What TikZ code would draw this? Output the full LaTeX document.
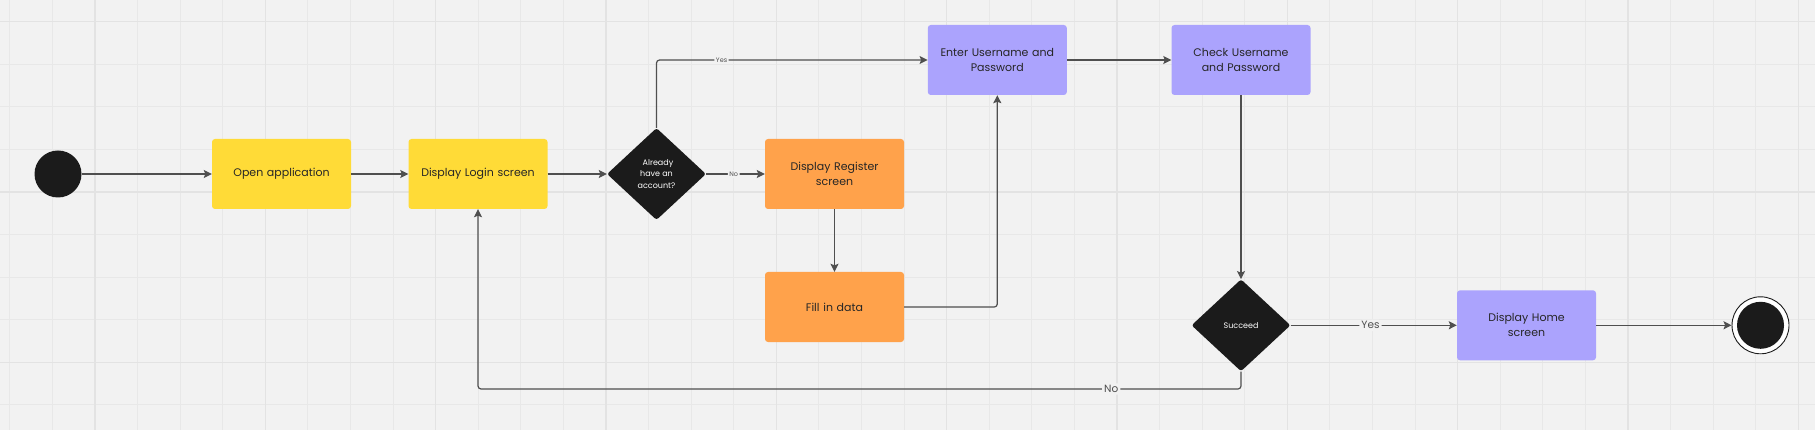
\documentclass[tikz,border=0pt]{standalone}
\usepackage{fontspec}
\setmainfont{Poppins}
\usetikzlibrary{shapes.geometric,arrows.meta}
\definecolor{bg}{HTML}{F2F2F2}
\definecolor{gridminor}{HTML}{E8E8E8}
\definecolor{gridmajor}{HTML}{E3E3E3}
\definecolor{yel}{HTML}{FFDB37}
\definecolor{ora}{HTML}{FFA24B}
\definecolor{pur}{HTML}{ABA3FD}
\definecolor{blk}{HTML}{1B1B1B}
\definecolor{lin}{HTML}{4F4F4F}
\definecolor{txt}{HTML}{262626}
\tikzset{
  box/.style={rectangle, rounded corners=3pt, minimum width=139pt, minimum height=70pt, inner sep=2pt, align=center, text=txt, font=\fontsize{11}{15}\selectfont, text width=130pt},
  ybox/.style={box, fill=yel},
  obox/.style={box, fill=ora},
  pbox/.style={box, fill=pur},
  decision/.style={diamond, fill=blk, rounded corners=2.5pt, minimum width=99pt, minimum height=92pt, inner sep=0pt, text=white, align=center, font=\fontsize{8}{11.2}\selectfont},
  conn/.style={draw=lin, line width=1.2pt, rounded corners=3pt, -{Stealth[length=8pt,width=8pt,inset=1.5pt]}},
  smalllbl/.style={fill=bg, inner sep=1.5pt, text=lin, font=\fontsize{6.5}{8}\selectfont},
  biglbl/.style={fill=bg, inner sep=2pt, text=lin, font=\fontsize{10.5}{12}\selectfont},
}
\begin{document}
\begin{tikzpicture}[x=1pt,y=-1pt]
\fill[bg] (0,0) rectangle (1815,430);
\useasboundingbox (0,0) rectangle (1815,430);
% grid
\foreach \i in {0,...,42} {
  \draw[gridminor, line width=1pt] ({9.9+42.58*\i},0) -- ({9.9+42.58*\i},430);
}
\foreach \i in {0,...,10} {
  \draw[gridminor, line width=1pt] (0,{21.7+42.58*\i}) -- (1815,{21.7+42.58*\i});
}
\foreach \i in {0,...,10} {
  \draw[gridmajor, line width=1.3pt] ({95.06+170.32*\i},0) -- ({95.06+170.32*\i},430);
}
\foreach \i in {0,...,2} {
  \draw[gridmajor, line width=1.3pt] (0,{21.7+170.32*\i}) -- (1815,{21.7+170.32*\i});
}
% nodes
\node[circle, fill=blk, minimum size=47pt, inner sep=0pt] (start) at (58,174) {};
\node[ybox] (open) at (281.5,174) {Open application};
\node[ybox] (login) at (478,174) {Display Login screen};
\node[decision] (d1) at (656.5,174) {\hspace*{3pt}Already\\have an\\account?};
\node[obox] (reg) at (834.5,174) {Display Register\\screen};
\node[obox] (fill) at (834.5,307) {Fill in data};
\node[pbox] (enter) at (997.3,60) {Enter Username and\\Password};
\node[pbox] (check) at (1241,60) {Check Username\\and Password};
\node[decision] (d2) at (1241,325.3) {Succeed};
\node[pbox] (home) at (1526.5,325.3) {Display Home\\screen};
\node[circle, draw=blk, line width=0.9pt, fill=white, minimum size=57pt, inner sep=0pt] (endo) at (1760.5,325.3) {};
\node[circle, fill=blk, minimum size=47pt, inner sep=0pt] (endi) at (endo.center) {};
\coordinate (nocorner) at (1241,389);
% connectors
\draw[conn] (start) -- (open);
\draw[conn] (open) -- (login);
\draw[conn] (login) -- (d1.west);
\draw[conn] (d1.north) |- node[smalllbl, pos=0.62] {Yes} (enter.west);
\draw[conn] (d1.east) -- node[smalllbl, pos=0.47] {No} (reg.west);
\draw[conn] (reg) -- (fill);
\draw[conn] (fill.east) -| (enter.south);
\draw[conn] (enter) -- (check);
\draw[conn] (check) -- (d2.north);
\draw[conn] (d2.east) -- node[biglbl, pos=0.48] {Yes} (home.west);
\draw[conn] (home) -- (endo.west);
\draw[conn] (d2.south) -- (nocorner) -| node[biglbl, pos=0.085] {No} (login.south);
\end{tikzpicture}
\end{document}
